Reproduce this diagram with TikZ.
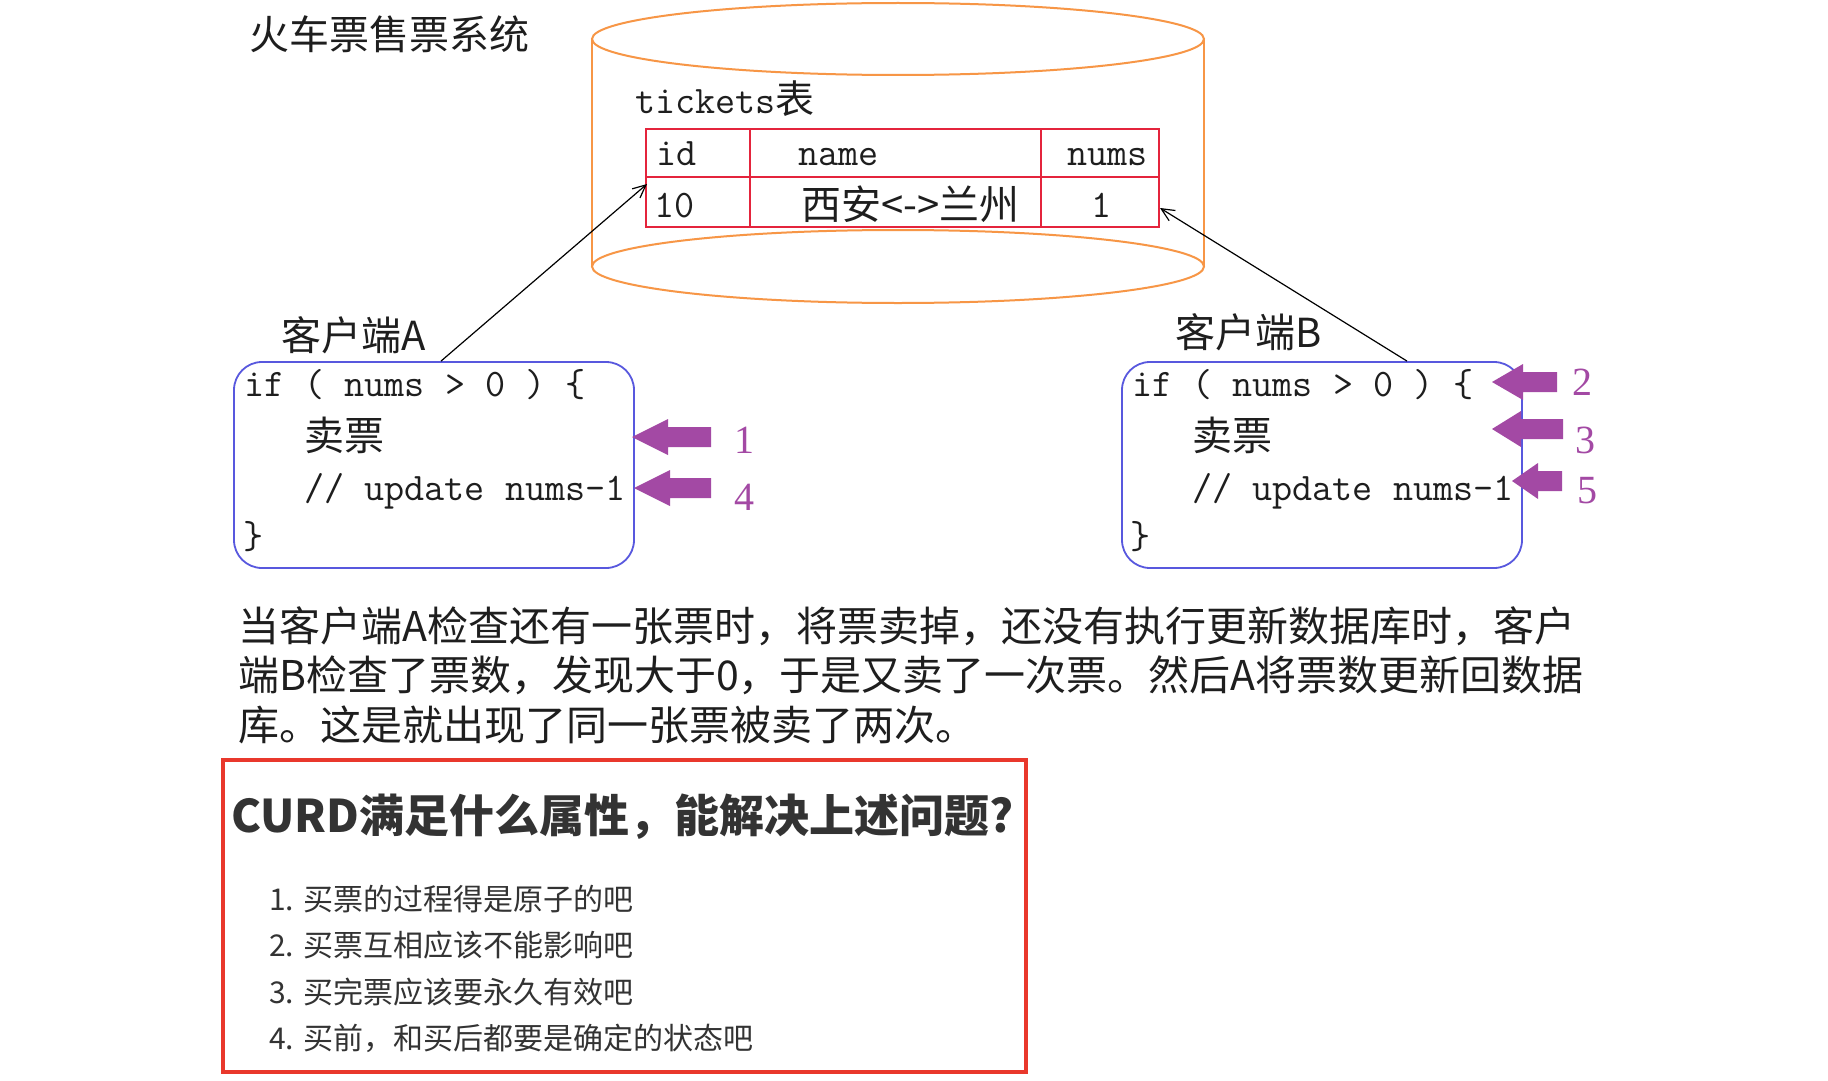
\documentclass[tikz,border=0pt]{standalone}
\usepackage{fontspec}
\newfontfamily\cjk{Noto Sans CJK SC}
\newfontfamily\digitfont{Liberation Serif}
\usetikzlibrary{arrows.meta}
\definecolor{cylor}{HTML}{F79646}
\definecolor{tabred}{RGB}{228,36,60}
\definecolor{boxblue}{RGB}{88,88,222}
\definecolor{purp}{RGB}{163,73,164}
\definecolor{qred}{RGB}{233,56,44}
\definecolor{ink}{HTML}{1E1E1E}
\definecolor{greyink}{HTML}{333333}
\newcommand\fsz[1]{\fontsize{#1}{#1}\selectfont}
\newcommand\parrow[4]{%
  \fill[purp] (#1,#2) -- ({#1+#3},{#2-18}) -- ({#1+#3},{#2-10}) -- ({#1+#4},{#2-10})
   -- ({#1+#4},{#2+10}) -- ({#1+#3},{#2+10}) -- ({#1+#3},{#2+18}) -- cycle;}
\begin{document}
\begin{tikzpicture}[x=1pt,y=-1pt,
  txt/.style={inner sep=0pt, anchor=base west, text=ink},
  code/.style={txt, font=\ttfamily\fsz{39}},
  cj/.style={txt, font=\cjk\fsz{40}},
  paraline/.style={txt, font=\cjk\fsz{41}},
  cell/.style={draw=tabred, line width=2pt, inner sep=0pt, minimum height=#1},
  client/.style={draw=boxblue, line width=1.8pt, rounded corners=28pt, minimum width=400pt, minimum height=206pt, inner sep=0pt},
  link/.style={draw=black, line width=1.2pt, -{Straight Barb[length=13pt,width=12pt]}},
  num/.style={inner sep=0pt, anchor=base, text=purp, font=\digitfont\fsz{40}},
  item/.style={txt, text=greyink, font=\cjk\fsz{30}}
]
\useasboundingbox (0,0) rectangle (1828,1081);
\fill[white] (0,0) rectangle (1828,1081);

% title
\node[cj] (title) at (249,50) {火车票售票系统};

% database cylinder
\draw[cylor, line width=2pt] (898,39) ellipse [x radius=306pt, y radius=36pt];
\draw[cylor, line width=2pt] (898,266.5) ellipse [x radius=306pt, y radius=36.5pt];
\draw[cylor, line width=2pt] (592,39) -- (592,266.5);
\draw[cylor, line width=2pt] (1204,39) -- (1204,266.5);

\node[code] (tname) at (635,113) {tickets{\cjk 表}};

% table
\node[cell=48pt, minimum width=104pt] (c11) at (698,153) {};
\node[cell=48pt, minimum width=291pt] (c12) at (895.5,153) {};
\node[cell=48pt, minimum width=118pt] (c13) at (1100,153) {};
\node[cell=50pt, minimum width=104pt] (c21) at (698,202) {};
\node[cell=50pt, minimum width=291pt] (c22) at (895.5,202) {};
\node[cell=50pt, minimum width=118pt] (c23) at (1100,202) {};
\node[code] (hid) at (656,165) {id};
\node[code] (hname) at (798,165) {name};
\node[code] (hnums) at (1067,165) {nums};
\node[code] (vid) at (654,217) {10};
\node[cj] (vname) at (801,219) {西安<->兰州};
\node[code] (vnums) at (1091,217) {1};

% client A
\node[cj] (labA) at (281,350) {客户端A};
\node[client] (boxA) at (434,465) {};
\node[code] (a1) at (244,396) {if ( nums > 0 ) \{};
\node[cj] (a2) at (304,450) {卖票};
\node[code] (a3) at (304,500) {// update nums-1};
\node[code] (a4) at (243,548) {\}};

% client B
\node[cj] (labB) at (1175,347) {客户端B};
\node[client] (boxB) at (1322,465) {};
\node[code] (b1) at (1132,396) {if ( nums > 0 ) \{};
\node[cj] (b2) at (1192,450) {卖票};
\node[code] (b3) at (1192,500) {// update nums-1};
\node[code] (b4) at (1130,548) {\}};

% connectors
\draw[link] ([xshift=7pt]boxA.north) -- ([xshift=2pt,yshift=18pt]c21.west);
\draw[link] ([xshift=85pt]boxB.north) -- ([yshift=-6pt]c23.east);

% purple step arrows
\parrow{632}{437}{36}{79}
\parrow{634}{488}{36}{77}
\parrow{1492}{382}{31}{65}
\parrow{1492}{429}{29}{71}
\parrow{1512}{481}{26}{50}
\node[num] (n1) at (744,453) {1};
\node[num] (n4) at (744,510) {4};
\node[num] (n2) at (1582,395) {2};
\node[num] (n3) at (1585,453) {3};
\node[num] (n5) at (1587,503) {5};

% paragraph
\node[paraline] (p1) at (238,641) {当客户端A检查还有一张票时，将票卖掉，还没有执行更新数据库时，客户};
\node[paraline] (p2) at (238,690) {端B检查了票数，发现大于0，于是又卖了一次票。然后A将票数更新回数据};
\node[paraline] (p3) at (238,740) {库。这是就出现了同一张票被卖了两次。};

% question box
\node[draw=qred, line width=3.5pt, minimum width=803pt, minimum height=312pt, inner sep=0pt] (qbox) at (624.5,916) {};
\node[txt, text=greyink, font=\cjk\bfseries\fsz{45}] (qhead) at (231,832) {CURD满足什么属性，能解决上述问题?};
\node[item] (i1) at (269,910) {1. 买票的过程得是原子的吧};
\node[item] (i2) at (269,956) {2. 买票互相应该不能影响吧};
\node[item] (i3) at (269,1003) {3. 买完票应该要永久有效吧};
\node[item] (i4) at (269,1049) {4. 买前，和买后都要是确定的状态吧};
\end{tikzpicture}
\end{document}
